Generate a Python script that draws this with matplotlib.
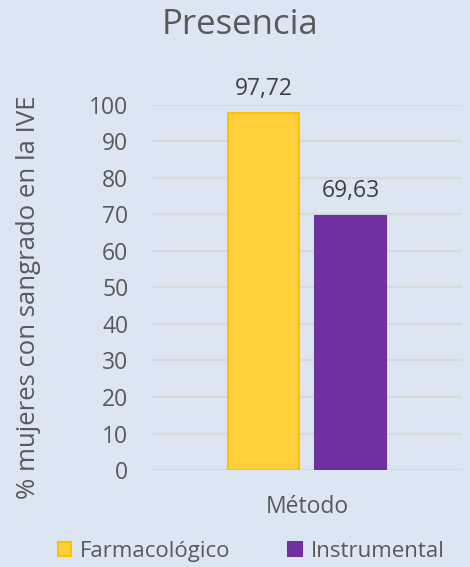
import matplotlib
matplotlib.use('Agg')
import matplotlib.pyplot as plt
from matplotlib.patches import Patch

categories = ['Método']
series_names = ['Farmacológico', 'Instrumental']
values = [97.72, 69.63]
value_labels = ['97,72', '69,63']
yticks = [0, 10, 20, 30, 40, 50, 60, 70, 80, 90, 100]

BG = '#DCE6F2'
TXT = '#595959'
fills = ['#FFD03A', '#7030A0']
edges = ['#FFC000', '#7030A0']

plt.rcParams['font.family'] = ['Open Sans', 'DejaVu Sans']

fig = plt.figure(figsize=(4.7, 5.67), dpi=100, facecolor=BG)
ax = fig.add_axes([0.3234, 0.171, 0.6596, 0.644], facecolor=BG)

offsets = [-0.1403, 0.1403]
width = 0.226
for name, v, lab, off, fc, ec in zip(series_names, values, value_labels, offsets, fills, edges):
    ax.bar(0 + off, v, width=width, color=fc, edgecolor=ec, linewidth=1.5, zorder=3, label=name)
    ax.annotate(lab, (0 + off, v), xytext=(0, 9), textcoords='offset points',
                ha='center', va='bottom', fontsize=16.5, color='#404040')

ax.set_xlim(-0.5, 0.5)
ax.set_ylim(0, 100)
ax.set_yticks(yticks)
ax.set_xticks([0])
ax.set_xticklabels(categories)
ax.tick_params(axis='both', length=0, labelsize=16.5, labelcolor=TXT)
ax.tick_params(axis='y', pad=17)
ax.tick_params(axis='x', pad=18)
ax.yaxis.grid(True, color='#D9D9D9', linewidth=1.5, zorder=0)
for s in ax.spines.values():
    s.set_visible(False)

fig.text(29 / 470, 0.4753, '% mujeres con sangrado en la IVE', rotation=90,
         ha='center', va='center', fontsize=18.5, color=TXT)
fig.text(0.511, 0.956, 'Presencia', ha='center', va='center', fontsize=25, color=TXT)

handles = [Patch(facecolor=fc, edgecolor=ec, linewidth=1.5) for fc, ec in zip(fills, edges)]
fig.legend(handles, series_names, loc='center', bbox_to_anchor=(0.534, 0.028), ncol=2,
           frameon=False, fontsize=16, labelcolor=TXT, handlelength=0.6, handleheight=0.6,
           handletextpad=0.4, columnspacing=2.6)

fig.savefig('out.png', dpi=100, facecolor=BG)
